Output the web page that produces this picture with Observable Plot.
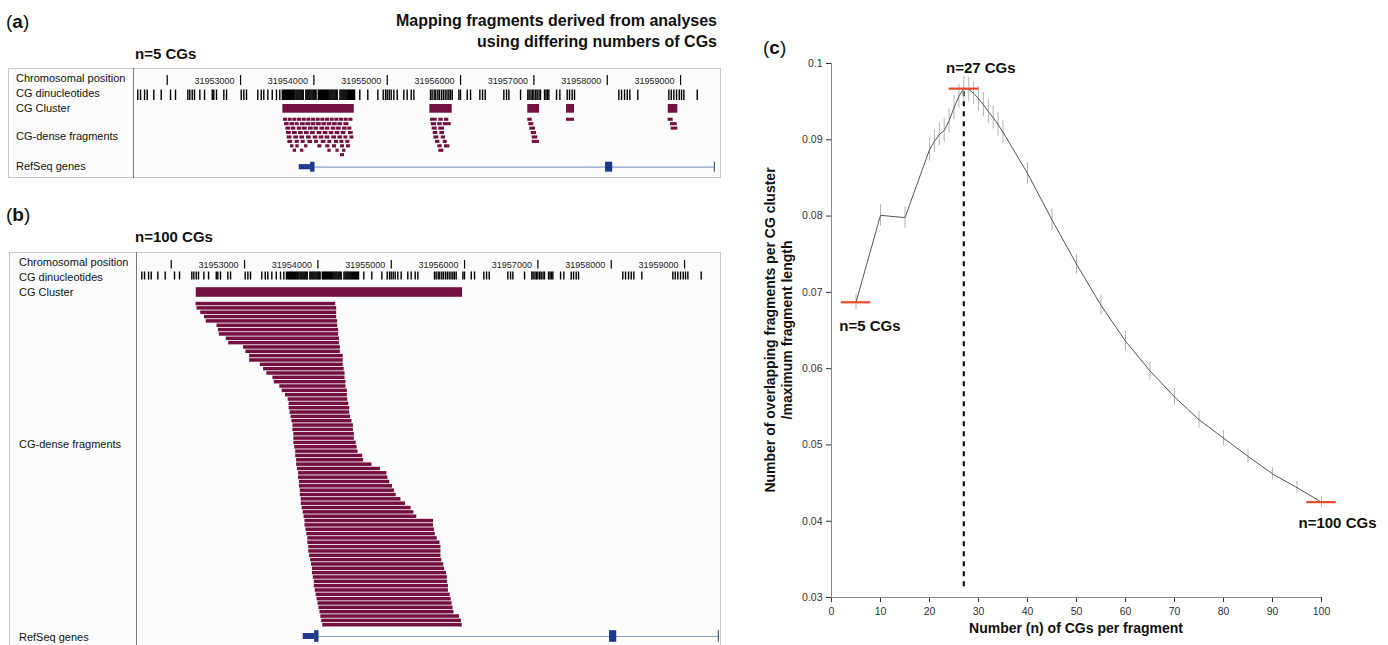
<!DOCTYPE html>
<html><head><meta charset="utf-8">
<script src="https://cdn.jsdelivr.net/npm/d3@7"></script>
<script src="https://cdn.jsdelivr.net/npm/@observablehq/plot@0.6"></script>
<style>
body{margin:0;background:#fff;font-family:"Liberation Sans",Arial,sans-serif;color:#111}
#wrap{position:relative;width:1388px;height:645px;overflow:hidden;background:#fff}
.abs{position:absolute;white-space:nowrap;line-height:1}
.plab{font-size:19px}
.plab b{font-weight:bold}
.title{font-weight:bold;font-size:16px;text-align:right;line-height:21px}
.nlab{font-weight:bold;font-size:15px}
.trk{font-size:11px;color:#111}
.box{position:absolute;border:1px solid #c9c9c9;box-sizing:border-box;background:#fcfcfc}
.div{position:absolute;width:1px;background:#777}
.axl{font-weight:bold;font-size:14px;text-align:center}
.chart{position:absolute}
</style></head>
<body>
<div id="wrap">
  <div class="abs plab" style="left:6px;top:12px">(<b>a</b>)</div>
  <div class="abs title" style="right:671px;top:10px">Mapping fragments derived from analyses<br>using differing numbers of CGs</div>
  <div class="abs nlab" style="left:135px;top:46px">n=5 CGs</div>
  <div class="box" style="left:8px;top:68px;width:713px;height:110px"></div>
  <div class="div" style="left:133px;top:68px;height:110px"></div>

  <div class="abs plab" style="left:6px;top:205px">(<b>b</b>)</div>
  <div class="abs nlab" style="left:135px;top:229px">n=100 CGs</div>
  <div class="box" style="left:9px;top:252px;width:712px;height:420px"></div>
  <div class="div" style="left:136px;top:252px;height:400px"></div>

  <div class="abs plab" style="left:763px;top:38px">(<b>c</b>)</div>
  <div id="labelsA"></div><div id="labelsB"></div>
  <div class="chart" id="pa" style="left:0;top:0"></div>
  <div class="chart" id="pb" style="left:0;top:200px"></div>
  <div class="chart" id="pc" style="left:740px;top:0"></div>
  <div class="abs axl" style="left:1076px;top:621px;transform:translateX(-50%)">Number (n) of CGs per fragment</div>
  <div class="abs axl" style="left:770px;top:330px;transform:translate(-50%,-50%) rotate(-90deg)">Number of overlapping fragments per CG cluster</div>
  <div class="abs axl" style="left:787px;top:330px;transform:translate(-50%,-50%) rotate(-90deg)">/maximum fragment length</div>
</div>
<script>
// ---------------- data ----------------
const BASE = 31952000;
const chromTicks = [31952000, 31953000, 31954000, 31955000, 31956000, 31957000, 31958000, 31959000];
const chromTickLabels = ["", "31953000", "31954000", "31955000", "31956000", "31957000", "31958000", "31959000"];
const trackLabels = ["Chromosomal position", "CG dinucleotides", "CG Cluster", "CG-dense fragments", "RefSeq genes"];

// CG dinucleotide positions (bp offset from BASE)
const cgOffsets = [-401, -364, -309, -273, -183, -82, 45, 113, 281, 308, 341, 372, 445, 509, 614, 635, 672, 772, 809,
  1009, 1045, 1081, 1235, 1282, 1317, 1372, 1432, 1490, 1535,
  1570, 1585, 1600, 1612, 1628, 1640, 1655, 1670, 1683, 1697, 1712, 1725, 1740, 1756, 1770, 1783, 1798, 1812, 1826, 1840, 1855,
  1890, 1905, 1918, 1932, 1946, 1960, 1975, 1990, 2004, 2018, 2030,
  2060, 2075, 2088, 2102, 2117, 2130, 2145, 2160, 2174, 2188, 2203, 2217, 2232, 2246, 2260, 2275, 2290, 2304, 2318,
  2355, 2370, 2384, 2398, 2412, 2426, 2440, 2455, 2470, 2484, 2498, 2512, 2527, 2540, 2554,
  2626, 2735, 2872, 2945, 2977, 3000, 3027, 3054, 3090, 3136, 3226, 3272, 3327, 3363,
  3590, 3612, 3640, 3662, 3690, 3712, 3740, 3765, 3790, 3815, 3840, 3862, 3886,
  3977, 3999, 4091, 4136, 4263, 4300, 4336, 4590, 4627, 4659, 4818,
  4917, 4935, 4960, 4980, 5000, 5025, 5045, 5070, 5090, 5145, 5165, 5185, 5204, 5309, 5354, 5454, 5486, 5522, 5554,
  6158, 6195, 6236, 6273, 6308, 6417, 6840, 6873, 6908, 6945, 6982, 7013, 7045, 7227];

// n = 5 : CG clusters [start, end] and fragments [row, start, end]
const clustersA = [[1577, 2550], [3581, 3886], [4917, 5077], [5445, 5554], [6832, 6963]];
const fragmentsA = [
  [0,1586,1641],[0,1650,1704],[0,1713,1768],[0,1777,1832],[0,1841,1895],[0,1904,1959],[0,1968,2022],[0,2032,2086],[0,2095,2150],[0,2159,2213],[0,2222,2277],[0,2286,2341],[0,2350,2404],[0,2413,2468],[0,2477,2532],
  [1,1600,1663],[1,1673,1736],[1,1745,1800],[1,1818,1882],[1,1891,1954],[1,1963,2027],[1,2036,2100],[1,2109,2172],[1,2181,2245],[1,2254,2318],[1,2327,2391],[1,2409,2477],
  [2,1618,1682],[2,1691,1754],[2,1773,1836],[2,1845,1909],[2,1927,1991],[2,2000,2063],[2,2082,2145],[2,2154,2218],[2,2236,2300],[2,2309,2372],[2,2391,2454],[2,2463,2518],
  [3,1627,1691],[3,1709,1773],[3,1791,1854],[3,1872,1936],[3,1954,2018],[3,2045,2109],[3,2127,2191],[3,2209,2272],[3,2290,2354],[3,2372,2436],[3,2472,2536],
  [4,1636,1700],[4,1727,1791],[4,1809,1872],[4,1900,1963],[4,1991,2054],[4,2072,2136],[4,2154,2218],[4,2245,2309],[4,2327,2391],[4,2409,2463],[4,2491,2545],
  [5,1645,1709],[5,1745,1800],[5,1827,1882],[5,1918,1982],[5,2009,2063],[5,2100,2163],[5,2191,2245],[5,2281,2336],[5,2354,2409],[5,2436,2491],
  [6,1682,1727],[6,1754,1800],[6,1872,1918],[6,2054,2109],[6,2163,2218],[6,2254,2309],[6,2363,2418],[6,2445,2500],
  [7,1718,1763],[7,1818,1863],[7,2191,2236],[7,2300,2345],[7,2391,2436],
  [8,2363,2418],
  [0,3590,3681],[0,3704,3763],[0,3781,3840],
  [1,3599,3672],[1,3690,3749],[1,3763,3872],
  [2,3613,3681],[2,3704,3781],
  [3,3627,3690],[3,3718,3781],
  [4,3636,3704],[4,3736,3795],
  [5,3659,3718],[5,3763,3818],
  [6,3690,3749],[6,3781,3854],
  [7,3704,3772],
  [0,4917,4977],[1,4931,4999],[2,4945,5022],[3,4963,5036],[4,4977,5054],[5,4977,5077],
  [0,5445,5554],
  [0,6831,6899],[1,6863,6954],[2,6872,6963]
];

// n = 100 : one CG cluster and fragments (start / end, one per row)
const clustersB = [[341, 3972]];
const fragStartB = [338, 352, 402, 453, 478, 624, 643, 656, 751, 783, 986, 1018, 1069, 1069, 1215, 1259, 1304, 1386, 1405, 1481,
  1513, 1558, 1595, 1608, 1608, 1621, 1634, 1646, 1659, 1659, 1672, 1672, 1672, 1684, 1697, 1697, 1710, 1710, 1722, 1736,
  1736, 1748, 1748, 1760, 1760, 1773, 1773, 1786, 1799, 1811, 1824, 1824, 1837, 1849, 1863, 1863, 1875, 1875, 1887, 1901,
  1913, 1925, 1925, 1938, 1951, 1951, 1964, 1976, 1989, 2002, 2014, 2028, 2040, 2052, 2066];
const fragEndB = [2243, 2256, 2256, 2256, 2269, 2269, 2282, 2282, 2294, 2294, 2307, 2307, 2345, 2345, 2345, 2358, 2370, 2370, 2383, 2383,
  2402, 2402, 2408, 2421, 2434, 2434, 2446, 2465, 2484, 2484, 2497, 2497, 2523, 2535, 2547, 2611, 2624, 2738, 2853, 2941,
  2954, 2979, 3018, 3044, 3068, 3132, 3195, 3271, 3309, 3348, 3577, 3577, 3589, 3601, 3627, 3665, 3678, 3678, 3678, 3690,
  3716, 3728, 3754, 3766, 3766, 3780, 3780, 3804, 3817, 3830, 3843, 3855, 3931, 3957, 3969];

// RefSeq gene model
const geneUTR = [[1800, 1955]];
const geneExons = [[1955, 2015], [5977, 6075]];
const geneSpan = [[1955, 7460]];
const geneEnd = [7460];

// panel (c)
const nCGs =   [5, 10, 15, 20, 21, 22, 23, 24, 25, 26, 27, 28, 29, 30, 31, 32, 33, 34, 35, 40, 45, 50, 55, 60, 65, 70, 75, 80, 85, 90, 95, 100];
const ratio =  [0.0687, 0.0801, 0.0798, 0.0887, 0.0898, 0.0907, 0.0912, 0.0925, 0.0942, 0.0957, 0.0967, 0.0966, 0.0961, 0.0954, 0.0946, 0.0937,
  0.0929, 0.0920, 0.0910, 0.0856, 0.0795, 0.0737, 0.0683, 0.0636, 0.0597, 0.0563, 0.0533, 0.0509, 0.0485, 0.0462, 0.0444, 0.0425];
const ratioErr = [0.0010, 0.0014, 0.0014, 0.0015, 0.0015, 0.0015, 0.0016, 0.0016, 0.0016, 0.0016, 0.0016, 0.0016, 0.0015, 0.0016, 0.0016, 0.0016,
  0.0015, 0.0016, 0.0015, 0.0014, 0.0014, 0.0013, 0.0013, 0.0013, 0.0012, 0.0011, 0.0011, 0.0010, 0.0009, 0.0008, 0.0008, 0.0007];
const highlightN = [5, 27, 100];
const highlightText = ["n=5 CGs", "n=27 CGs", "n=100 CGs"];
const xTicks = [0, 10, 20, 30, 40, 50, 60, 70, 80, 90, 100];
const yTicks = [0.03, 0.04, 0.05, 0.06, 0.07, 0.08, 0.09, 0.1];

// ---------------- styles / layout ----------------
const MAROON = "#74103f";
const NAVY = "#1d3a8a";
const GENELINE = "#8c9fd2";
const FONT = "Liberation Sans, Arial, sans-serif";

function browser(cfg) {
  const L = cfg.L;
  const frag = cfg.frags;
  return Plot.plot({
    width: 730, height: cfg.height,
    marginLeft: cfg.left, marginRight: 730 - cfg.right, marginTop: 0, marginBottom: 0,
    x: {domain: [BASE + cfg.g0, BASE + cfg.g1], axis: null},
    y: {domain: [0, cfg.height], range: [0, cfg.height], axis: null},
    style: {background: "transparent", fontFamily: FONT, overflow: "visible"},
    marks: [
      Plot.ruleX(chromTicks, {x: d => d, y1: L.tick[0], y2: L.tick[1], stroke: "#000", strokeWidth: 1.2}),
      Plot.text(chromTicks, {x: d => d, y: L.tickLab, text: (d, i) => chromTickLabels[i], textAnchor: "end", dx: -6,
        fontSize: 9, fill: "#222", fontFamily: "Liberation Sans Narrow, Liberation Sans, sans-serif"}),
      Plot.ruleX(cgOffsets, {x: d => BASE + d, y1: L.cg[0], y2: L.cg[1], stroke: "#000", strokeWidth: 1.4}),
      Plot.rect(cfg.clusters, {x1: d => BASE + d[0], x2: d => BASE + d[1], y1: L.cl[0], y2: L.cl[1], fill: MAROON}),
      Plot.rect(frag, {x1: d => BASE + d.s, x2: d => BASE + d.e, y1: d => L.frag0 + d.row * L.pitch, y2: d => L.frag0 + d.row * L.pitch + L.fragH, fill: MAROON}),
      Plot.ruleY(geneSpan, {x1: d => BASE + d[0], x2: d => BASE + d[1], y: L.gene, stroke: GENELINE, strokeWidth: 1.2}),
      Plot.rect(geneUTR, {x1: d => BASE + d[0], x2: d => BASE + d[1], y1: L.gene - L.utrH, y2: L.gene + L.utrH, fill: NAVY}),
      Plot.rect(geneExons, {x1: d => BASE + d[0], x2: d => BASE + d[1], y1: L.gene - L.exH, y2: L.gene + L.exH, fill: NAVY}),
      Plot.ruleX(geneEnd, {x: d => BASE + d, y1: L.gene - L.exH, y2: L.gene + L.exH, stroke: NAVY, strokeWidth: 1})
    ]
  });
}

const fragsA = fragmentsA.map(([row, s, e]) => ({row, s, e}));
const fragsB = fragStartB.map((s, i) => ({row: i, s, e: fragEndB[i]}));

document.getElementById("pa").append(browser({
  height: 190, left: 133.5, right: 720.7, g0: -453, g1: 7554,
  clusters: clustersA, frags: fragsA,
  L: {tick: [75, 85], tickLab: 81, cg: [89.5, 100], cl: [104, 112.7], frag0: 117.7, pitch: 4.43, fragH: 3.1,
      gene: 166.7, utrH: 2.6, exH: 5}
}));
document.getElementById("pb").append(browser({
  height: 445, left: 136.7, right: 720, g0: -464, g1: 7490,
  clusters: clustersB, frags: fragsB,
  L: {tick: [60, 68.5], tickLab: 65, cg: [71.5, 79.5], cl: [87.2, 96.8], frag0: 101.8, pitch: 4.34, fragH: 3.5,
      gene: 436, utrH: 3, exH: 5.8}
}));

// track labels (html text)
function labels(id, left, tops) {
  const el = document.getElementById(id);
  trackLabels.forEach((t, i) => {
    const d = document.createElement("div");
    d.className = "abs trk";
    d.style.left = left + "px";
    d.style.top = tops[i] + "px";
    d.textContent = t;
    el.append(d);
  });
}
labels("labelsA", 16, [73, 88, 103, 131, 161]);
labels("labelsB", 19, [257, 272, 287, 439, 632]);

// panel (c)
const pts = nCGs.map((n, i) => ({n, v: ratio[i], e: ratioErr[i]}));
const hi = highlightN.map((n, i) => ({n, v: ratio[nCGs.indexOf(n)], t: highlightText[i]}));
document.getElementById("pc").append(Plot.plot({
  width: 648, height: 645, marginLeft: 91, marginRight: 67, marginTop: 63, marginBottom: 48,
  x: {domain: [0, 100], ticks: xTicks, tickFormat: d => String(d), tickSize: 5, tickPadding: 5, label: null},
  y: {domain: [0.03, 0.1], ticks: yTicks, tickFormat: d => String(Math.round(d * 100) / 100), tickSize: 5, tickPadding: 4, label: null},
  style: {background: "transparent", fontFamily: FONT, fontSize: "10.5px", color: "#333", overflow: "visible"},
  marks: [
    Plot.ruleX([0], {stroke: "#888"}),
    Plot.ruleY([0.03], {stroke: "#888"}),
    Plot.ruleX([27], {y1: 0.0314, y2: ratio[nCGs.indexOf(27)], stroke: "#111", strokeWidth: 2.2, strokeDasharray: "5,5"}),
    Plot.ruleX(pts, {x: "n", y1: d => d.v - d.e, y2: d => d.v + d.e, stroke: "#b5b5b5", strokeWidth: 1}),
    Plot.line(pts, {x: "n", y: "v", stroke: "#555", strokeWidth: 1}),
    Plot.ruleY(hi, {x1: d => d.n - 3, x2: d => d.n + 3, y: "v", stroke: "#ec4a2f", strokeWidth: 2.2}),
    Plot.text(hi.filter(d => d.n === 27), {x: "n", y: "v", text: "t", dx: 17, dy: -20, fontWeight: "bold", fontSize: 15, fill: "#111"}),
    Plot.text(hi.filter(d => d.n === 5), {x: "n", y: "v", text: "t", dx: 14, dy: 24, fontWeight: "bold", fontSize: 15, fill: "#111"}),
    Plot.text(hi.filter(d => d.n === 100), {x: "n", y: "v", text: "t", dx: 16, dy: 21, fontWeight: "bold", fontSize: 15, fill: "#111"})
  ]
}));
</script>
</body></html>
